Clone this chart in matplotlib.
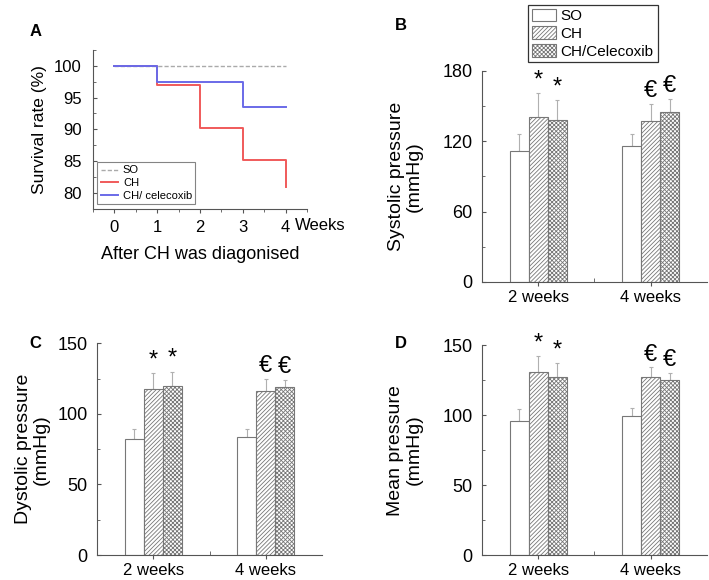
import matplotlib
matplotlib.use("Agg")
import matplotlib.pyplot as plt
import numpy as np

plt.rcParams['font.family'] = ['Liberation Sans', 'DejaVu Sans']
plt.rcParams['hatch.color'] = '#909090'
plt.rcParams['hatch.linewidth'] = 0.6

# survival data (panel A)
weeks = [0, 1, 2, 3, 4]
so_surv = [100, 100, 100, 100, 100]
ch_surv = [100, 97.0, 90.2, 85.1, 81.0]
cx_surv = [100, 97.4, 97.4, 93.5, 93.5]

# blood pressure data (panels B-D)
groups = ["2 weeks", "4 weeks"]
series = ["SO", "CH", "CH/Celecoxib"]

sys_mean = {"SO": [112, 116], "CH": [141, 137], "CH/Celecoxib": [138, 145]}
sys_err = {"SO": [14, 10], "CH": [20, 15], "CH/Celecoxib": [17, 11]}

dia_mean = {"SO": [82, 84], "CH": [118, 116], "CH/Celecoxib": [120, 119]}
dia_err = {"SO": [7, 5], "CH": [11, 9], "CH/Celecoxib": [10, 5]}

mean_mean = {"SO": [96, 99], "CH": [131, 127], "CH/Celecoxib": [127, 125]}
mean_err = {"SO": [8, 6], "CH": [11, 7], "CH/Celecoxib": [10, 5]}

# significance marks, per group (over CH and CH/Celecoxib bars)
marks = ["*", "\u20ac"]

spine_c = '#555555'
fig = plt.figure(figsize=(7.09, 5.80), dpi=100)

# ---------------- panel A ----------------
axA = fig.add_axes([0.131, 0.640, 0.302, 0.274])
axA.step(weeks, so_surv, where='post', color='#aaaaaa', lw=1.0, ls=(0, (3, 1.5)), label='SO')
axA.step(weeks, ch_surv, where='post', color='#f05a5a', lw=1.4, label='CH')
axA.step(weeks, cx_surv, where='post', color='#6a6ae8', lw=1.4, label='CH/ celecoxib')
axA.set_xlim(-0.5, 4.5)
axA.set_ylim(77.5, 102.5)
axA.set_xticks(weeks)
axA.set_xticks(np.arange(-0.5, 4.6, 0.5), minor=True)
axA.set_yticks([80, 85, 90, 95, 100])
axA.set_yticks(np.arange(77.5, 102.6, 2.5), minor=True)
axA.tick_params(axis='y', direction='in', labelsize=12, length=3, color=spine_c, pad=8)
axA.tick_params(axis='y', which='minor', direction='in', length=2, color=spine_c)
axA.tick_params(axis='x', direction='out', labelsize=12, length=3, color=spine_c, pad=5)
axA.tick_params(axis='x', which='minor', direction='out', length=2, color=spine_c)
for s in ['top', 'right']:
    axA.spines[s].set_visible(False)
for s in ['left', 'bottom']:
    axA.spines[s].set_color(spine_c)
    axA.spines[s].set_linewidth(0.8)
axA.set_ylabel('Survival rate (%)', fontsize=12.5, labelpad=5)
axA.set_xlabel('After CH was diagonised', fontsize=13, labelpad=8)
axA.text(4.22, -0.055, 'Weeks', transform=axA.get_xaxis_transform(),
         ha='left', va='top', fontsize=12)
legA = axA.legend(loc='lower left', fontsize=8, frameon=True, fancybox=False,
                  edgecolor='#666666', handlelength=1.6, borderpad=0.3,
                  labelspacing=0.25, handletextpad=0.4, borderaxespad=0.4)
legA.get_frame().set_linewidth(0.8)
fig.text(36 / 709, 1 - 32 / 580, 'A', ha='center', va='center', fontsize=12, fontweight='bold')

# ---------------- bar panels ----------------
hatches = {"SO": None, "CH": '////////', "CH/Celecoxib": 'xxxxxxxx'}
width = 0.168
x = np.arange(len(groups))


def bar_panel(rect, means, errs, ymax, step, ylabel, lpad):
    ax = fig.add_axes(rect)
    handles = []
    for i, name in enumerate(series):
        pos = x + (i - 1) * width
        m = np.array(means[name])
        e = np.array(errs[name])
        ax.errorbar(pos, m, yerr=[np.zeros_like(e), e], fmt='none',
                    ecolor='#b0b0b0', elinewidth=0.8, capsize=1.5, capthick=0.8, zorder=1)
        b = ax.bar(pos, m, width, color='white', edgecolor='#777777',
                   linewidth=0.8, hatch=hatches[name], label=name, zorder=2)
        handles.append(b)
        if i > 0:
            for j in range(len(groups)):
                ax.text(pos[j], m[j] + e[j] + 0.06 * ymax, marks[j],
                        ha='center', va='center', fontsize=17)
    ax.set_xlim(-0.5, 1.5)
    ax.set_ylim(0, ymax)
    ax.set_yticks(np.arange(0, ymax + 1, step))
    ax.set_yticks(np.arange(step / 2, ymax, step), minor=True)
    ax.set_xticks(x)
    ax.set_xticks([0.5], minor=True)
    ax.set_xticklabels(groups)
    ax.tick_params(axis='y', direction='in', labelsize=13, length=3, color=spine_c, pad=7)
    ax.tick_params(axis='y', which='minor', direction='in', length=2, color=spine_c)
    ax.tick_params(axis='x', direction='out', labelsize=12, length=3, color=spine_c, pad=2.5)
    ax.tick_params(axis='x', which='minor', direction='in', length=3, color=spine_c)
    for s in ['top', 'right']:
        ax.spines[s].set_visible(False)
    for s in ['left', 'bottom']:
        ax.spines[s].set_color(spine_c)
        ax.spines[s].set_linewidth(0.8)
    ax.set_ylabel(ylabel, fontsize=14, labelpad=lpad, linespacing=1.1)
    return ax, handles


axB, hB = bar_panel([0.680, 0.514, 0.317, 0.364], sys_mean, sys_err, 180, 60,
                    'Systolic pressure\n(mmHg)', 14)
axC, _ = bar_panel([0.137, 0.043, 0.317, 0.365], dia_mean, dia_err, 150, 50,
                   'Dystolic pressure\n(mmHg)', 5)
axD, _ = bar_panel([0.680, 0.043, 0.317, 0.362], mean_mean, mean_err, 150, 50,
                   'Mean pressure\n(mmHg)', 14)

fig.text(401 / 709, 1 - 25 / 580, 'B', ha='center', va='center', fontsize=12, fontweight='bold')
fig.text(35 / 709, 1 - 343 / 580, 'C', ha='center', va='center', fontsize=12, fontweight='bold')
fig.text(401 / 709, 1 - 343 / 580, 'D', ha='center', va='center', fontsize=12, fontweight='bold')

legB = fig.legend(handles=hB, labels=series, loc='upper center',
                  bbox_to_anchor=(0.836, 1.005), fontsize=11, frameon=True,
                  fancybox=False, edgecolor='black', handlelength=1.6,
                  handleheight=0.9, borderpad=0.25, labelspacing=0.2,
                  handletextpad=0.3)
legB.get_frame().set_linewidth(0.9)

fig.savefig('out.png', dpi=100)
